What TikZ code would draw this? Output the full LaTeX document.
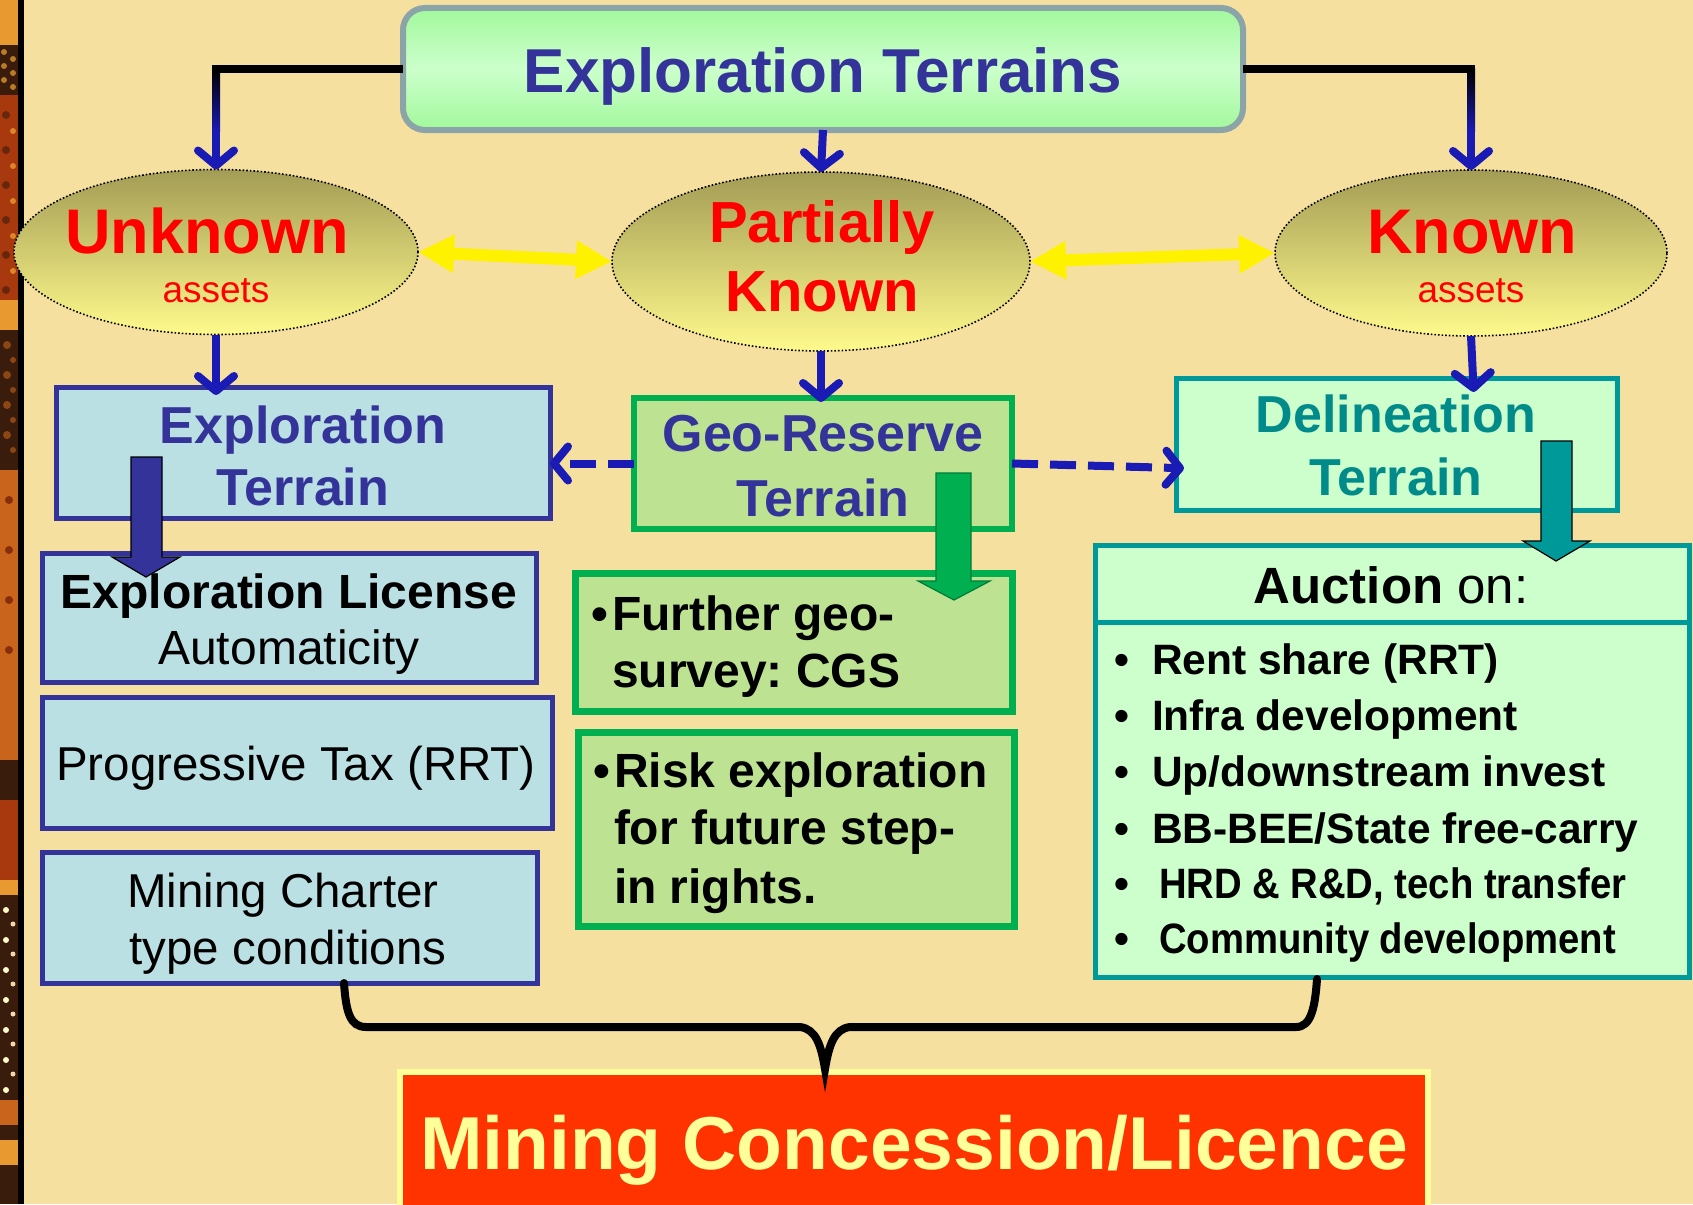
\documentclass[tikz,border=0pt]{standalone}
\usepackage{fontspec}
\setmainfont{Liberation Sans}
\usepackage{graphicx}
\usetikzlibrary{arrows.meta,shapes.geometric,calc}

\definecolor{bg}{HTML}{F6E0A0}
\definecolor{navy}{HTML}{333399}
\definecolor{arrowblue}{HTML}{1A1AB4}
\definecolor{topfill}{HTML}{A2F89C}
\definecolor{topmid}{HTML}{CCFFCC}
\definecolor{topedge}{HTML}{8AA4A8}
\definecolor{olive}{HTML}{A39C55}
\definecolor{paleyel}{HTML}{FFFA8C}
\definecolor{lblue}{HTML}{BBE0E3}
\definecolor{lgreen}{HTML}{BDE291}
\definecolor{green}{HTML}{00B050}
\definecolor{mint}{HTML}{CCFFCC}
\definecolor{teal}{HTML}{009999}
\definecolor{tealtext}{HTML}{008A8A}
\definecolor{redorange}{HTML}{FF3300}
\definecolor{cream}{HTML}{FFFF99}
\definecolor{stripA}{HTML}{C8641C}
\definecolor{stripB}{HTML}{3A1C0C}
\definecolor{stripC}{HTML}{E89A30}
\definecolor{stripD}{HTML}{A8380E}

\newcommand\setfs[1]{\fontsize{#1}{#1}\selectfont}

\begin{document}
\frenchspacing
\begin{tikzpicture}[x=1pt,y=-1pt,
  txt/.style={inner sep=0pt, outer sep=0pt, anchor=base},
  txtl/.style={inner sep=0pt, outer sep=0pt, anchor=base west},
  boxbase/.style={rectangle, inner sep=0pt, outer sep=0pt},
  bluebox/.style={boxbase, draw=navy, fill=lblue, line width=5pt},
  greenbox/.style={boxbase, draw=green, fill=lgreen, line width=7pt},
  tealbox/.style={boxbase, draw=teal, fill=mint, line width=5pt},
  oval/.style={ellipse, inner sep=0pt, outer sep=0pt, draw=black, dotted,
    line width=1.6pt, top color=olive, bottom color=paleyel},
  bluearr/.style={draw=arrowblue, line width=8pt,
    -{Straight Barb[length=15pt,width=36pt,round]}},
  dasharr/.style={draw=arrowblue, line width=8pt, dash pattern=on 26pt off 12pt,
    -{Straight Barb[length=14pt,width=34pt,round]}},
  yelarr/.style={draw=yellow, line width=12pt,
    {Triangle[length=36pt,width=36pt]}-{Triangle[length=36pt,width=36pt]}},
  blockarr/.style={draw=black, line width=1.2pt, line join=miter}
]
\useasboundingbox (0,0) rectangle (1693,1204);
\fill[bg] (0,0) rectangle (1693,1204);

% decorative strip on the left edge
\fill[stripA] (0,0) rectangle (18,1204);
\fill[stripC] (0,0) rectangle (18,45);
\fill[stripB] (0,45) rectangle (18,95);
\foreach \yy in {52,66,80} {\fill[stripC!80!black] (4,\yy) circle (3); \fill[stripC!80!black] (13,\yy+7) circle (3);}
\fill[stripD] (0,95) rectangle (18,300);
\foreach \yy in {115,150,185,220,255,290} {\fill[stripB!60!stripD] (6,\yy) circle (4); \fill[stripC!80!stripD] (13,\yy+16) circle (3);}
\fill[stripC] (0,300) rectangle (18,330);
\fill[stripB] (0,330) rectangle (18,470);
\foreach \yy in {345,375,405,435} {\fill[stripA!70!black] (7,\yy) circle (4); \fill[stripA!70!black] (13,\yy+15) circle (3);}
\fill[stripA] (0,470) rectangle (18,700);
\foreach \yy in {500,550,600,650} {\fill[stripD!80!black] (9,\yy) circle (4);}
\fill[stripB] (0,760) rectangle (18,800);
\fill[stripD] (0,800) rectangle (18,880);
\fill[stripC] (0,880) rectangle (18,895);
\fill[stripB] (0,895) rectangle (18,1100);
\foreach \yy in {910,940,970,1000,1030,1060,1090} {\fill[white!80!yellow] (6,\yy) circle (3); \fill[white!60!stripC] (13,\yy+14) circle (2.5);}
\fill[stripA] (0,1100) rectangle (18,1125);
\fill[stripB] (0,1125) rectangle (18,1140);
\fill[stripC] (0,1140) rectangle (18,1165);
\fill[stripB] (0,1165) rectangle (18,1204);
\fill[black] (18,0) rectangle (24,1204);

% title box
\node[boxbase, rounded corners=22pt, draw=topedge, line width=6pt,
  top color=topfill, bottom color=topfill, middle color=topmid,
  minimum width=840pt, minimum height=122pt] (top) at (823,69) {};
\node[txt, font=\setfs{62}\bfseries, text=navy] (toptxt) at (823,93) {Exploration Terrains};

% terrain ovals
\node[oval, minimum width=404pt, minimum height=165pt] (unk) at (216,252) {};
\node[oval, minimum width=418pt, minimum height=179pt] (par) at (821,261.5) {};
\node[oval, minimum width=392pt, minimum height=166pt] (kn) at (1471,253) {};
\node[txt, font=\setfs{63}\bfseries, text=red] (unk1) at (207,253) {Unknown};
\node[txt, font=\setfs{37}, text=red] (unk2) at (216,302) {assets};
\node[txt, font=\setfs{58}\bfseries, text=red] (par1) at (822,242) {Partially};
\node[txt, font=\setfs{58}\bfseries, text=red] (par2) at (822,311) {Known};
\node[txt, font=\setfs{63}\bfseries, text=red] (kn1) at (1472,253) {Known};
\node[txt, font=\setfs{37}, text=red] (kn2) at (1471,302) {assets};

% title to ovals: black elbow turning blue towards the arrow tip
\coordinate (cL) at (unk.north |- top.west);
\coordinate (cR) at (kn.north |- top.east);
\draw[bluearr] (cL) -- (unk.north);
\draw[bluearr] (cR) -- (kn.north);
\shade[top color=black, bottom color=arrowblue] ($(cL)+(-4,0)$) rectangle ($(cL)+(4,62)$);
\shade[top color=black, bottom color=arrowblue] ($(cR)+(-4,0)$) rectangle ($(cR)+(4,62)$);
\draw[black, line width=8.5pt] ($(cL)+(-4.25,0)$) -- (top.west);
\draw[black, line width=8.5pt] ($(cR)+(4.25,0)$) -- (top.east);
\draw[bluearr] (top.south) -- (par.north);

% links between ovals
\draw[yelarr] (unk.east) -- (par.west);
\draw[yelarr] (par.east) -- (kn.west);

% terrain boxes
\node[bluebox, minimum width=494pt, minimum height=131pt] (expT) at (303,452.5) {};
\node[greenbox, line width=6pt, minimum width=378pt, minimum height=131pt] (geo) at (823,463.5) {};
\node[tealbox, minimum width=441pt, minimum height=132pt] (del) at (1396.5,444) {};

\draw[bluearr, shorten >=-8pt] (unk.south) -- (unk.south |- expT.north);
\draw[bluearr, shorten >=-4pt] (par.south) -- (par.south |- geo.north);
\draw[bluearr, shorten >=-14pt] (kn.south) -- ([xshift=2pt]kn.south |- del.north);

\node[txt, font=\setfs{52}\bfseries, text=navy] (expT1) at (303,443) {Exploration};
\node[txt, font=\setfs{52}\bfseries, text=navy] (expT2) at (303,505) {Terrain};
\node[txt, font=\setfs{52}\bfseries, text=navy] (geo1) at (823,451) {Geo-Reserve};
\node[txt, font=\setfs{52}\bfseries, text=navy] (geo2) at (823,516) {Terrain};
\node[txt, font=\setfs{52}\bfseries, text=tealtext] (del1) at (1396,432) {Delineation};
\node[txt, font=\setfs{52}\bfseries, text=tealtext] (del2) at (1396,495) {Terrain};

\draw[dasharr] (geo.west) -- (geo.west -| expT.east);
\draw[dasharr, shorten >=-8pt] (geo.east) -- ([yshift=-24pt]del.west);

% left column
\node[bluebox, minimum width=494pt, minimum height=129pt] (lic) at (289,617.5) {};
\node[bluebox, minimum width=510pt, minimum height=131pt] (prog) at (297,762.5) {};
\node[bluebox, minimum width=495pt, minimum height=131pt] (mc) at (289.5,917.5) {};
\node[txt, font=\setfs{48}\bfseries] (lic1) at (289,608) {Exploration License};
\node[txt, font=\setfs{48}] (lic2) at (289,664) {Automaticity};
\node[txt, font=\setfs{47.5}] (prog1) at (296,780) {Progressive Tax (RRT)};
\node[txt, font=\setfs{47.5}] (mc1) at (283,907) {Mining Charter};
\node[txt, font=\setfs{47.5}] (mc2) at (288,964) {type conditions};

\draw[blockarr, fill=navy] (131,457) -- (162,457) -- (162,557) -- (180,557) -- (146,577)
  -- (112,557) -- (131,557) -- cycle;

% middle column
\node[greenbox, minimum width=437pt, minimum height=138pt] (fur) at (793.5,642) {};
\node[greenbox, minimum width=436pt, minimum height=194pt] (risk) at (796,829) {};
\node[txtl, font=\setfs{48}\bfseries] (furb) at (591,630) {•};
\node[txtl, font=\setfs{48}\bfseries] (fur1) at (612,630) {Further geo-};
\node[txtl, font=\setfs{48}\bfseries] (fur2) at (612,687) {survey: CGS};
\node[txtl, font=\setfs{48}\bfseries] (riskb) at (593,787) {•};
\node[txtl, font=\setfs{48}\bfseries] (risk1) at (614,787) {Risk exploration};
\node[txtl, font=\setfs{48}\bfseries] (risk2) at (614,844) {for future step-};
\node[txtl, font=\setfs{48}\bfseries] (risk3) at (614,903) {in rights.};

\draw[blockarr, draw=green!70!black, fill=green] (936,473) -- (971,473) -- (971,581) -- (990,581)
  -- (954,600) -- (918,581) -- (936,581) -- cycle;

% right column
\node[tealbox, minimum width=594pt, minimum height=432pt] (auc) at (1392,761) {};
\draw[teal, line width=5pt] (auc.west |- 0,622) -- (auc.east |- 0,622);
\node[txt, font=\setfs{51}] (auc0) at (1391,603) {\bfseries Auction\mdseries{} on:};
\foreach \yy/\t [count=\i] in {674/Rent share (RRT), 730/Infra development,
    786/Up\slash downstream invest, 843/BB-BEE\slash State free-carry} {
  \node[txtl, font=\setfs{42.5}\bfseries] (aucb\i) at (1114,\yy) {•};
  \node[txtl, font=\setfs{42.5}\bfseries] (auct\i) at (1152,\yy) {\t};
}
\node[txtl, font=\setfs{42.5}\bfseries] (aucb5) at (1114,898) {•};
\node[txtl, font=\setfs{42.5}\bfseries] (auct5) at (1159,898) {\scalebox{0.9}[1]{HRD \& R\&D, tech transfer}};
\node[txtl, font=\setfs{42.5}\bfseries] (aucb6) at (1114,953) {•};
\node[txtl, font=\setfs{42.5}\bfseries] (auct6) at (1159,953) {\scalebox{0.9}[1]{Community development}};

\draw[blockarr, fill=teal] (1541,441) -- (1572,441) -- (1572,541) -- (1590,541) -- (1556,561)
  -- (1523,541) -- (1541,541) -- cycle;

% result box and the brace gathering the columns into it
\node[boxbase, draw=cream, fill=redorange, line width=6pt,
  minimum width=1028pt, minimum height=148pt] (res) at (914,1146) {};
\node[txt, font=\setfs{75}\bfseries, text=cream] (res1) at (914,1169) {Mining Concession/Licence};

\coordinate (bl) at (344,983);
\coordinate (br) at (1317,979);
\coordinate (bm) at (825,1069);
\draw[black, line width=8pt, line cap=round]
  (bl) .. controls (346,1012) and (350,1027) .. (366,1027) -- (800,1027)
  .. controls (816,1029) and (821,1045) .. (bm)
  .. controls (829,1045) and (834,1029) .. (850,1027) -- (1296,1027)
  .. controls (1311,1027) and (1315,1008) .. (br);
\end{tikzpicture}
\end{document}
